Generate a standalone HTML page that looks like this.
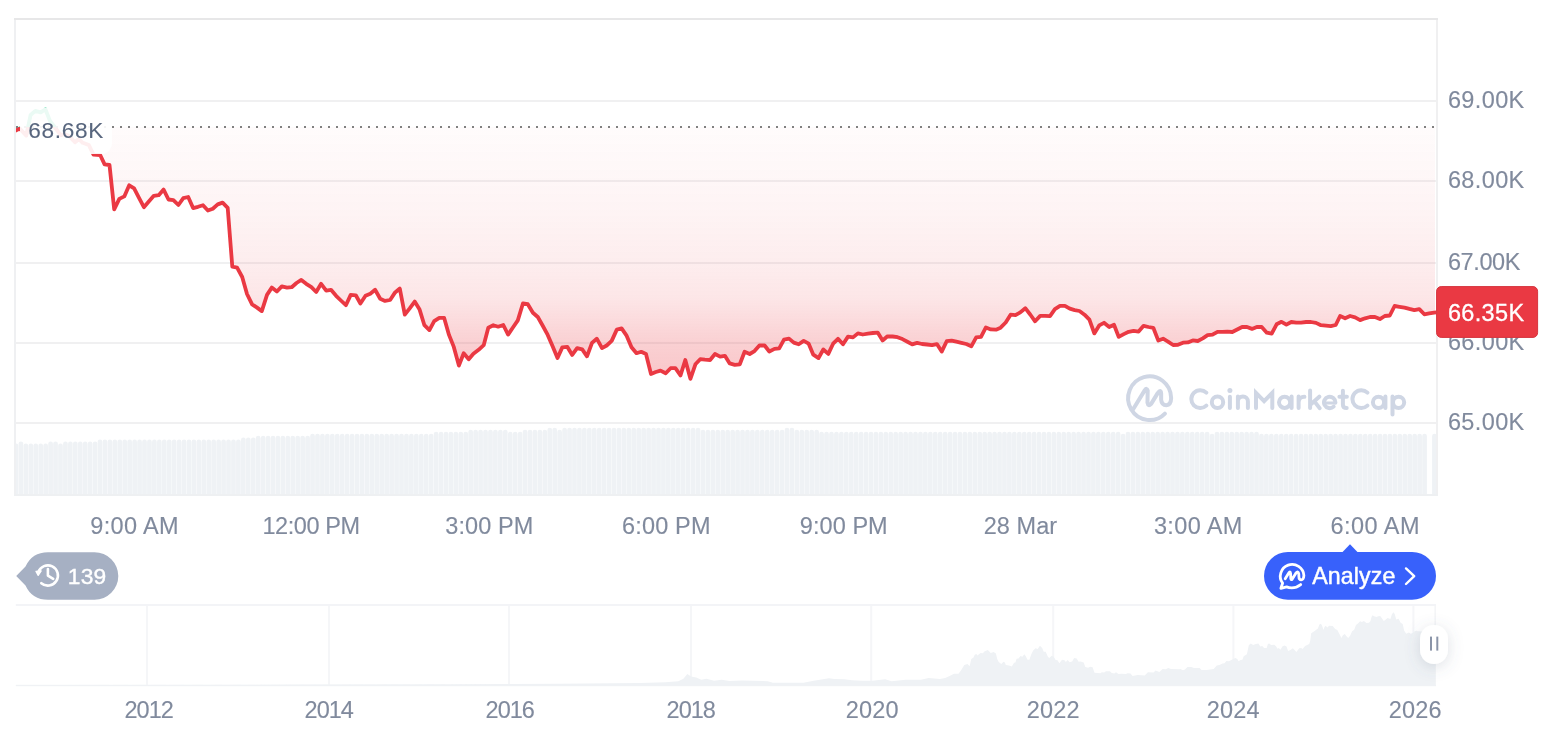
<!DOCTYPE html>
<html><head><meta charset="utf-8"><title>chart</title>
<style>
html,body{margin:0;padding:0;background:#fff;}
body{width:1566px;height:732px;overflow:hidden;position:relative;font-family:"Liberation Sans", sans-serif;}
svg{position:absolute;left:0;top:0;display:block;will-change:transform;}
text{font-family:"Liberation Sans", sans-serif;}
.ax{font-size:23.5px;fill:#808A9D;stroke:#808A9D;stroke-width:0.12px;}
</style></head><body>
<svg width="1566" height="732" viewBox="0 0 1566 732">
<defs>
<linearGradient id="gr" gradientUnits="userSpaceOnUse" x1="0" y1="127.0" x2="0" y2="387.0">
<stop offset="0.0000" stop-color="#EA3943" stop-opacity="0.0180"/><stop offset="0.2038" stop-color="#EA3943" stop-opacity="0.0420"/><stop offset="0.3269" stop-color="#EA3943" stop-opacity="0.0580"/><stop offset="0.5269" stop-color="#EA3943" stop-opacity="0.0920"/><stop offset="0.6577" stop-color="#EA3943" stop-opacity="0.1270"/><stop offset="0.7500" stop-color="#EA3943" stop-opacity="0.1850"/><stop offset="0.8269" stop-color="#EA3943" stop-opacity="0.2350"/><stop offset="1.0000" stop-color="#EA3943" stop-opacity="0.3000"/>
</linearGradient>
<linearGradient id="gg" gradientUnits="userSpaceOnUse" x1="0" y1="18.5" x2="0" y2="127.0">
<stop offset="0" stop-color="#16C784" stop-opacity="0.3"/>
<stop offset="1" stop-color="#16C784" stop-opacity="0.03"/>
</linearGradient>
<clipPath id="below"><rect x="0" y="127.0" width="1566" height="732"/></clipPath>
<clipPath id="above"><rect x="0" y="0" width="1566" height="127.0"/></clipPath>
<clipPath id="pane"><rect x="16" y="20" width="1420.3" height="474"/></clipPath>
<clipPath id="fillpane"><rect x="16" y="20" width="1419" height="474"/></clipPath>
<filter id="sh" x="-100%" y="-100%" width="300%" height="300%"><feDropShadow dx="0" dy="3" stdDeviation="7.5" flood-color="#58667E" flood-opacity="0.2"/></filter>
</defs>
<!-- frame -->
<rect x="14" y="18" width="1424" height="2" fill="#E7E7E8"/>
<rect x="14" y="20" width="2" height="476" fill="#EFF0F2"/>
<rect x="1436" y="20" width="2" height="476" fill="#F0F0F1"/>
<rect x="16" y="100.0" width="1420" height="2" fill="#F0F0F1"/><rect x="16" y="180.0" width="1420" height="2" fill="#F0F0F1"/><rect x="16" y="262.0" width="1420" height="2" fill="#F0F0F1"/><rect x="16" y="342.0" width="1420" height="2" fill="#F0F0F1"/><rect x="16" y="422.0" width="1420" height="2" fill="#F0F0F1"/>
<!-- volume -->
<g fill="#EFF2F5" clip-path="url(#pane)">
<path d="M13.67,495.0 V445.8 A2.33,2.33 0 0 1 18.33,445.8 V495.0 Z"/>
<path d="M18.61,495.0 V443.8 A2.33,2.33 0 0 1 23.27,443.8 V495.0 Z"/>
<path d="M23.55,495.0 V445.8 A2.33,2.33 0 0 1 28.21,445.8 V495.0 Z"/>
<path d="M28.50,495.0 V445.8 A2.33,2.33 0 0 1 33.16,445.8 V495.0 Z"/>
<path d="M33.44,495.0 V445.8 A2.33,2.33 0 0 1 38.10,445.8 V495.0 Z"/>
<path d="M38.38,495.0 V445.8 A2.33,2.33 0 0 1 43.04,445.8 V495.0 Z"/>
<path d="M43.32,495.0 V445.8 A2.33,2.33 0 0 1 47.98,445.8 V495.0 Z"/>
<path d="M48.27,495.0 V443.8 A2.33,2.33 0 0 1 52.93,443.8 V495.0 Z"/>
<path d="M53.21,495.0 V443.8 A2.33,2.33 0 0 1 57.87,443.8 V495.0 Z"/>
<path d="M58.15,495.0 V445.8 A2.33,2.33 0 0 1 62.81,445.8 V495.0 Z"/>
<path d="M63.09,495.0 V443.8 A2.33,2.33 0 0 1 67.75,443.8 V495.0 Z"/>
<path d="M68.04,495.0 V443.8 A2.33,2.33 0 0 1 72.70,443.8 V495.0 Z"/>
<path d="M72.98,495.0 V443.8 A2.33,2.33 0 0 1 77.64,443.8 V495.0 Z"/>
<path d="M77.92,495.0 V443.8 A2.33,2.33 0 0 1 82.58,443.8 V495.0 Z"/>
<path d="M82.86,495.0 V443.8 A2.33,2.33 0 0 1 87.52,443.8 V495.0 Z"/>
<path d="M87.80,495.0 V443.8 A2.33,2.33 0 0 1 92.46,443.8 V495.0 Z"/>
<path d="M92.75,495.0 V443.8 A2.33,2.33 0 0 1 97.41,443.8 V495.0 Z"/>
<path d="M97.69,495.0 V441.8 A2.33,2.33 0 0 1 102.35,441.8 V495.0 Z"/>
<path d="M102.63,495.0 V441.8 A2.33,2.33 0 0 1 107.29,441.8 V495.0 Z"/>
<path d="M107.57,495.0 V441.8 A2.33,2.33 0 0 1 112.23,441.8 V495.0 Z"/>
<path d="M112.52,495.0 V441.8 A2.33,2.33 0 0 1 117.18,441.8 V495.0 Z"/>
<path d="M117.46,495.0 V441.8 A2.33,2.33 0 0 1 122.12,441.8 V495.0 Z"/>
<path d="M122.40,495.0 V441.8 A2.33,2.33 0 0 1 127.06,441.8 V495.0 Z"/>
<path d="M127.34,495.0 V441.8 A2.33,2.33 0 0 1 132.00,441.8 V495.0 Z"/>
<path d="M132.29,495.0 V441.8 A2.33,2.33 0 0 1 136.95,441.8 V495.0 Z"/>
<path d="M137.23,495.0 V441.8 A2.33,2.33 0 0 1 141.89,441.8 V495.0 Z"/>
<path d="M142.17,495.0 V441.8 A2.33,2.33 0 0 1 146.83,441.8 V495.0 Z"/>
<path d="M147.11,495.0 V441.8 A2.33,2.33 0 0 1 151.77,441.8 V495.0 Z"/>
<path d="M152.05,495.0 V441.8 A2.33,2.33 0 0 1 156.71,441.8 V495.0 Z"/>
<path d="M157.00,495.0 V441.8 A2.33,2.33 0 0 1 161.66,441.8 V495.0 Z"/>
<path d="M161.94,495.0 V441.8 A2.33,2.33 0 0 1 166.60,441.8 V495.0 Z"/>
<path d="M166.88,495.0 V441.8 A2.33,2.33 0 0 1 171.54,441.8 V495.0 Z"/>
<path d="M171.82,495.0 V441.8 A2.33,2.33 0 0 1 176.48,441.8 V495.0 Z"/>
<path d="M176.77,495.0 V441.8 A2.33,2.33 0 0 1 181.43,441.8 V495.0 Z"/>
<path d="M181.71,495.0 V441.8 A2.33,2.33 0 0 1 186.37,441.8 V495.0 Z"/>
<path d="M186.65,495.0 V441.8 A2.33,2.33 0 0 1 191.31,441.8 V495.0 Z"/>
<path d="M191.59,495.0 V441.8 A2.33,2.33 0 0 1 196.25,441.8 V495.0 Z"/>
<path d="M196.54,495.0 V441.8 A2.33,2.33 0 0 1 201.20,441.8 V495.0 Z"/>
<path d="M201.48,495.0 V441.8 A2.33,2.33 0 0 1 206.14,441.8 V495.0 Z"/>
<path d="M206.42,495.0 V441.8 A2.33,2.33 0 0 1 211.08,441.8 V495.0 Z"/>
<path d="M211.36,495.0 V441.8 A2.33,2.33 0 0 1 216.02,441.8 V495.0 Z"/>
<path d="M216.30,495.0 V441.8 A2.33,2.33 0 0 1 220.96,441.8 V495.0 Z"/>
<path d="M221.25,495.0 V441.8 A2.33,2.33 0 0 1 225.91,441.8 V495.0 Z"/>
<path d="M226.19,495.0 V441.8 A2.33,2.33 0 0 1 230.85,441.8 V495.0 Z"/>
<path d="M231.13,495.0 V441.8 A2.33,2.33 0 0 1 235.79,441.8 V495.0 Z"/>
<path d="M236.07,495.0 V441.8 A2.33,2.33 0 0 1 240.73,441.8 V495.0 Z"/>
<path d="M241.02,495.0 V439.8 A2.33,2.33 0 0 1 245.68,439.8 V495.0 Z"/>
<path d="M245.96,495.0 V439.8 A2.33,2.33 0 0 1 250.62,439.8 V495.0 Z"/>
<path d="M250.90,495.0 V439.8 A2.33,2.33 0 0 1 255.56,439.8 V495.0 Z"/>
<path d="M255.84,495.0 V438.0 A2.33,2.33 0 0 1 260.50,438.0 V495.0 Z"/>
<path d="M260.79,495.0 V438.0 A2.33,2.33 0 0 1 265.44,438.0 V495.0 Z"/>
<path d="M265.73,495.0 V438.0 A2.33,2.33 0 0 1 270.39,438.0 V495.0 Z"/>
<path d="M270.67,495.0 V438.0 A2.33,2.33 0 0 1 275.33,438.0 V495.0 Z"/>
<path d="M275.61,495.0 V438.0 A2.33,2.33 0 0 1 280.27,438.0 V495.0 Z"/>
<path d="M280.55,495.0 V438.0 A2.33,2.33 0 0 1 285.21,438.0 V495.0 Z"/>
<path d="M285.50,495.0 V438.0 A2.33,2.33 0 0 1 290.16,438.0 V495.0 Z"/>
<path d="M290.44,495.0 V438.0 A2.33,2.33 0 0 1 295.10,438.0 V495.0 Z"/>
<path d="M295.38,495.0 V438.0 A2.33,2.33 0 0 1 300.04,438.0 V495.0 Z"/>
<path d="M300.32,495.0 V438.0 A2.33,2.33 0 0 1 304.98,438.0 V495.0 Z"/>
<path d="M305.27,495.0 V438.0 A2.33,2.33 0 0 1 309.93,438.0 V495.0 Z"/>
<path d="M310.21,495.0 V436.0 A2.33,2.33 0 0 1 314.87,436.0 V495.0 Z"/>
<path d="M315.15,495.0 V436.0 A2.33,2.33 0 0 1 319.81,436.0 V495.0 Z"/>
<path d="M320.09,495.0 V436.0 A2.33,2.33 0 0 1 324.75,436.0 V495.0 Z"/>
<path d="M325.03,495.0 V436.0 A2.33,2.33 0 0 1 329.69,436.0 V495.0 Z"/>
<path d="M329.98,495.0 V436.0 A2.33,2.33 0 0 1 334.64,436.0 V495.0 Z"/>
<path d="M334.92,495.0 V436.0 A2.33,2.33 0 0 1 339.58,436.0 V495.0 Z"/>
<path d="M339.86,495.0 V436.0 A2.33,2.33 0 0 1 344.52,436.0 V495.0 Z"/>
<path d="M344.80,495.0 V436.0 A2.33,2.33 0 0 1 349.46,436.0 V495.0 Z"/>
<path d="M349.75,495.0 V436.0 A2.33,2.33 0 0 1 354.41,436.0 V495.0 Z"/>
<path d="M354.69,495.0 V436.0 A2.33,2.33 0 0 1 359.35,436.0 V495.0 Z"/>
<path d="M359.63,495.0 V436.0 A2.33,2.33 0 0 1 364.29,436.0 V495.0 Z"/>
<path d="M364.57,495.0 V436.0 A2.33,2.33 0 0 1 369.23,436.0 V495.0 Z"/>
<path d="M369.52,495.0 V436.0 A2.33,2.33 0 0 1 374.18,436.0 V495.0 Z"/>
<path d="M374.46,495.0 V436.0 A2.33,2.33 0 0 1 379.12,436.0 V495.0 Z"/>
<path d="M379.40,495.0 V436.0 A2.33,2.33 0 0 1 384.06,436.0 V495.0 Z"/>
<path d="M384.34,495.0 V436.0 A2.33,2.33 0 0 1 389.00,436.0 V495.0 Z"/>
<path d="M389.28,495.0 V436.0 A2.33,2.33 0 0 1 393.94,436.0 V495.0 Z"/>
<path d="M394.23,495.0 V436.0 A2.33,2.33 0 0 1 398.89,436.0 V495.0 Z"/>
<path d="M399.17,495.0 V436.0 A2.33,2.33 0 0 1 403.83,436.0 V495.0 Z"/>
<path d="M404.11,495.0 V436.0 A2.33,2.33 0 0 1 408.77,436.0 V495.0 Z"/>
<path d="M409.05,495.0 V436.0 A2.33,2.33 0 0 1 413.71,436.0 V495.0 Z"/>
<path d="M414.00,495.0 V436.0 A2.33,2.33 0 0 1 418.66,436.0 V495.0 Z"/>
<path d="M418.94,495.0 V436.0 A2.33,2.33 0 0 1 423.60,436.0 V495.0 Z"/>
<path d="M423.88,495.0 V436.0 A2.33,2.33 0 0 1 428.54,436.0 V495.0 Z"/>
<path d="M428.82,495.0 V436.0 A2.33,2.33 0 0 1 433.48,436.0 V495.0 Z"/>
<path d="M433.77,495.0 V434.0 A2.33,2.33 0 0 1 438.43,434.0 V495.0 Z"/>
<path d="M438.71,495.0 V434.0 A2.33,2.33 0 0 1 443.37,434.0 V495.0 Z"/>
<path d="M443.65,495.0 V434.0 A2.33,2.33 0 0 1 448.31,434.0 V495.0 Z"/>
<path d="M448.59,495.0 V434.0 A2.33,2.33 0 0 1 453.25,434.0 V495.0 Z"/>
<path d="M453.53,495.0 V434.0 A2.33,2.33 0 0 1 458.19,434.0 V495.0 Z"/>
<path d="M458.48,495.0 V434.0 A2.33,2.33 0 0 1 463.14,434.0 V495.0 Z"/>
<path d="M463.42,495.0 V434.0 A2.33,2.33 0 0 1 468.08,434.0 V495.0 Z"/>
<path d="M468.36,495.0 V432.0 A2.33,2.33 0 0 1 473.02,432.0 V495.0 Z"/>
<path d="M473.30,495.0 V432.0 A2.33,2.33 0 0 1 477.96,432.0 V495.0 Z"/>
<path d="M478.25,495.0 V432.0 A2.33,2.33 0 0 1 482.91,432.0 V495.0 Z"/>
<path d="M483.19,495.0 V432.0 A2.33,2.33 0 0 1 487.85,432.0 V495.0 Z"/>
<path d="M488.13,495.0 V432.0 A2.33,2.33 0 0 1 492.79,432.0 V495.0 Z"/>
<path d="M493.07,495.0 V432.0 A2.33,2.33 0 0 1 497.73,432.0 V495.0 Z"/>
<path d="M498.02,495.0 V432.0 A2.33,2.33 0 0 1 502.68,432.0 V495.0 Z"/>
<path d="M502.96,495.0 V432.0 A2.33,2.33 0 0 1 507.62,432.0 V495.0 Z"/>
<path d="M507.90,495.0 V434.0 A2.33,2.33 0 0 1 512.56,434.0 V495.0 Z"/>
<path d="M512.84,495.0 V434.0 A2.33,2.33 0 0 1 517.50,434.0 V495.0 Z"/>
<path d="M517.78,495.0 V434.0 A2.33,2.33 0 0 1 522.44,434.0 V495.0 Z"/>
<path d="M522.73,495.0 V432.0 A2.33,2.33 0 0 1 527.39,432.0 V495.0 Z"/>
<path d="M527.67,495.0 V432.0 A2.33,2.33 0 0 1 532.33,432.0 V495.0 Z"/>
<path d="M532.61,495.0 V432.0 A2.33,2.33 0 0 1 537.27,432.0 V495.0 Z"/>
<path d="M537.55,495.0 V432.0 A2.33,2.33 0 0 1 542.21,432.0 V495.0 Z"/>
<path d="M542.50,495.0 V432.0 A2.33,2.33 0 0 1 547.16,432.0 V495.0 Z"/>
<path d="M547.44,495.0 V430.0 A2.33,2.33 0 0 1 552.10,430.0 V495.0 Z"/>
<path d="M552.38,495.0 V430.0 A2.33,2.33 0 0 1 557.04,430.0 V495.0 Z"/>
<path d="M557.32,495.0 V432.0 A2.33,2.33 0 0 1 561.98,432.0 V495.0 Z"/>
<path d="M562.27,495.0 V430.0 A2.33,2.33 0 0 1 566.93,430.0 V495.0 Z"/>
<path d="M567.21,495.0 V430.0 A2.33,2.33 0 0 1 571.87,430.0 V495.0 Z"/>
<path d="M572.15,495.0 V430.0 A2.33,2.33 0 0 1 576.81,430.0 V495.0 Z"/>
<path d="M577.09,495.0 V430.0 A2.33,2.33 0 0 1 581.75,430.0 V495.0 Z"/>
<path d="M582.03,495.0 V430.0 A2.33,2.33 0 0 1 586.69,430.0 V495.0 Z"/>
<path d="M586.98,495.0 V430.0 A2.33,2.33 0 0 1 591.64,430.0 V495.0 Z"/>
<path d="M591.92,495.0 V430.0 A2.33,2.33 0 0 1 596.58,430.0 V495.0 Z"/>
<path d="M596.86,495.0 V430.0 A2.33,2.33 0 0 1 601.52,430.0 V495.0 Z"/>
<path d="M601.80,495.0 V430.0 A2.33,2.33 0 0 1 606.46,430.0 V495.0 Z"/>
<path d="M606.75,495.0 V430.0 A2.33,2.33 0 0 1 611.41,430.0 V495.0 Z"/>
<path d="M611.69,495.0 V430.0 A2.33,2.33 0 0 1 616.35,430.0 V495.0 Z"/>
<path d="M616.63,495.0 V430.0 A2.33,2.33 0 0 1 621.29,430.0 V495.0 Z"/>
<path d="M621.57,495.0 V430.0 A2.33,2.33 0 0 1 626.23,430.0 V495.0 Z"/>
<path d="M626.52,495.0 V430.0 A2.33,2.33 0 0 1 631.18,430.0 V495.0 Z"/>
<path d="M631.46,495.0 V430.0 A2.33,2.33 0 0 1 636.12,430.0 V495.0 Z"/>
<path d="M636.40,495.0 V430.0 A2.33,2.33 0 0 1 641.06,430.0 V495.0 Z"/>
<path d="M641.34,495.0 V430.0 A2.33,2.33 0 0 1 646.00,430.0 V495.0 Z"/>
<path d="M646.28,495.0 V430.0 A2.33,2.33 0 0 1 650.94,430.0 V495.0 Z"/>
<path d="M651.23,495.0 V430.0 A2.33,2.33 0 0 1 655.89,430.0 V495.0 Z"/>
<path d="M656.17,495.0 V430.0 A2.33,2.33 0 0 1 660.83,430.0 V495.0 Z"/>
<path d="M661.11,495.0 V430.0 A2.33,2.33 0 0 1 665.77,430.0 V495.0 Z"/>
<path d="M666.05,495.0 V430.0 A2.33,2.33 0 0 1 670.71,430.0 V495.0 Z"/>
<path d="M671.00,495.0 V430.0 A2.33,2.33 0 0 1 675.66,430.0 V495.0 Z"/>
<path d="M675.94,495.0 V430.0 A2.33,2.33 0 0 1 680.60,430.0 V495.0 Z"/>
<path d="M680.88,495.0 V430.0 A2.33,2.33 0 0 1 685.54,430.0 V495.0 Z"/>
<path d="M685.82,495.0 V430.0 A2.33,2.33 0 0 1 690.48,430.0 V495.0 Z"/>
<path d="M690.77,495.0 V430.0 A2.33,2.33 0 0 1 695.43,430.0 V495.0 Z"/>
<path d="M695.71,495.0 V430.0 A2.33,2.33 0 0 1 700.37,430.0 V495.0 Z"/>
<path d="M700.65,495.0 V432.0 A2.33,2.33 0 0 1 705.31,432.0 V495.0 Z"/>
<path d="M705.59,495.0 V432.0 A2.33,2.33 0 0 1 710.25,432.0 V495.0 Z"/>
<path d="M710.53,495.0 V432.0 A2.33,2.33 0 0 1 715.19,432.0 V495.0 Z"/>
<path d="M715.48,495.0 V432.0 A2.33,2.33 0 0 1 720.14,432.0 V495.0 Z"/>
<path d="M720.42,495.0 V432.0 A2.33,2.33 0 0 1 725.08,432.0 V495.0 Z"/>
<path d="M725.36,495.0 V432.0 A2.33,2.33 0 0 1 730.02,432.0 V495.0 Z"/>
<path d="M730.30,495.0 V432.0 A2.33,2.33 0 0 1 734.96,432.0 V495.0 Z"/>
<path d="M735.25,495.0 V432.0 A2.33,2.33 0 0 1 739.91,432.0 V495.0 Z"/>
<path d="M740.19,495.0 V432.0 A2.33,2.33 0 0 1 744.85,432.0 V495.0 Z"/>
<path d="M745.13,495.0 V432.0 A2.33,2.33 0 0 1 749.79,432.0 V495.0 Z"/>
<path d="M750.07,495.0 V432.0 A2.33,2.33 0 0 1 754.73,432.0 V495.0 Z"/>
<path d="M755.01,495.0 V432.0 A2.33,2.33 0 0 1 759.68,432.0 V495.0 Z"/>
<path d="M759.96,495.0 V432.0 A2.33,2.33 0 0 1 764.62,432.0 V495.0 Z"/>
<path d="M764.90,495.0 V432.0 A2.33,2.33 0 0 1 769.56,432.0 V495.0 Z"/>
<path d="M769.84,495.0 V432.0 A2.33,2.33 0 0 1 774.50,432.0 V495.0 Z"/>
<path d="M774.78,495.0 V432.0 A2.33,2.33 0 0 1 779.44,432.0 V495.0 Z"/>
<path d="M779.73,495.0 V432.0 A2.33,2.33 0 0 1 784.39,432.0 V495.0 Z"/>
<path d="M784.67,495.0 V430.0 A2.33,2.33 0 0 1 789.33,430.0 V495.0 Z"/>
<path d="M789.61,495.0 V430.0 A2.33,2.33 0 0 1 794.27,430.0 V495.0 Z"/>
<path d="M794.55,495.0 V432.0 A2.33,2.33 0 0 1 799.21,432.0 V495.0 Z"/>
<path d="M799.50,495.0 V432.0 A2.33,2.33 0 0 1 804.16,432.0 V495.0 Z"/>
<path d="M804.44,495.0 V432.0 A2.33,2.33 0 0 1 809.10,432.0 V495.0 Z"/>
<path d="M809.38,495.0 V432.0 A2.33,2.33 0 0 1 814.04,432.0 V495.0 Z"/>
<path d="M814.32,495.0 V432.0 A2.33,2.33 0 0 1 818.98,432.0 V495.0 Z"/>
<path d="M819.26,495.0 V434.0 A2.33,2.33 0 0 1 823.92,434.0 V495.0 Z"/>
<path d="M824.21,495.0 V434.0 A2.33,2.33 0 0 1 828.87,434.0 V495.0 Z"/>
<path d="M829.15,495.0 V434.0 A2.33,2.33 0 0 1 833.81,434.0 V495.0 Z"/>
<path d="M834.09,495.0 V434.0 A2.33,2.33 0 0 1 838.75,434.0 V495.0 Z"/>
<path d="M839.03,495.0 V434.0 A2.33,2.33 0 0 1 843.69,434.0 V495.0 Z"/>
<path d="M843.98,495.0 V434.0 A2.33,2.33 0 0 1 848.64,434.0 V495.0 Z"/>
<path d="M848.92,495.0 V434.0 A2.33,2.33 0 0 1 853.58,434.0 V495.0 Z"/>
<path d="M853.86,495.0 V434.0 A2.33,2.33 0 0 1 858.52,434.0 V495.0 Z"/>
<path d="M858.80,495.0 V434.0 A2.33,2.33 0 0 1 863.46,434.0 V495.0 Z"/>
<path d="M863.75,495.0 V434.0 A2.33,2.33 0 0 1 868.41,434.0 V495.0 Z"/>
<path d="M868.69,495.0 V434.0 A2.33,2.33 0 0 1 873.35,434.0 V495.0 Z"/>
<path d="M873.63,495.0 V434.0 A2.33,2.33 0 0 1 878.29,434.0 V495.0 Z"/>
<path d="M878.57,495.0 V434.0 A2.33,2.33 0 0 1 883.23,434.0 V495.0 Z"/>
<path d="M883.51,495.0 V434.0 A2.33,2.33 0 0 1 888.17,434.0 V495.0 Z"/>
<path d="M888.46,495.0 V434.0 A2.33,2.33 0 0 1 893.12,434.0 V495.0 Z"/>
<path d="M893.40,495.0 V434.0 A2.33,2.33 0 0 1 898.06,434.0 V495.0 Z"/>
<path d="M898.34,495.0 V434.0 A2.33,2.33 0 0 1 903.00,434.0 V495.0 Z"/>
<path d="M903.28,495.0 V434.0 A2.33,2.33 0 0 1 907.94,434.0 V495.0 Z"/>
<path d="M908.23,495.0 V434.0 A2.33,2.33 0 0 1 912.89,434.0 V495.0 Z"/>
<path d="M913.17,495.0 V434.0 A2.33,2.33 0 0 1 917.83,434.0 V495.0 Z"/>
<path d="M918.11,495.0 V434.0 A2.33,2.33 0 0 1 922.77,434.0 V495.0 Z"/>
<path d="M923.05,495.0 V434.0 A2.33,2.33 0 0 1 927.71,434.0 V495.0 Z"/>
<path d="M928.00,495.0 V434.0 A2.33,2.33 0 0 1 932.66,434.0 V495.0 Z"/>
<path d="M932.94,495.0 V434.0 A2.33,2.33 0 0 1 937.60,434.0 V495.0 Z"/>
<path d="M937.88,495.0 V434.0 A2.33,2.33 0 0 1 942.54,434.0 V495.0 Z"/>
<path d="M942.82,495.0 V434.0 A2.33,2.33 0 0 1 947.48,434.0 V495.0 Z"/>
<path d="M947.76,495.0 V434.0 A2.33,2.33 0 0 1 952.42,434.0 V495.0 Z"/>
<path d="M952.71,495.0 V434.0 A2.33,2.33 0 0 1 957.37,434.0 V495.0 Z"/>
<path d="M957.65,495.0 V434.0 A2.33,2.33 0 0 1 962.31,434.0 V495.0 Z"/>
<path d="M962.59,495.0 V434.0 A2.33,2.33 0 0 1 967.25,434.0 V495.0 Z"/>
<path d="M967.53,495.0 V434.0 A2.33,2.33 0 0 1 972.19,434.0 V495.0 Z"/>
<path d="M972.48,495.0 V434.0 A2.33,2.33 0 0 1 977.14,434.0 V495.0 Z"/>
<path d="M977.42,495.0 V434.0 A2.33,2.33 0 0 1 982.08,434.0 V495.0 Z"/>
<path d="M982.36,495.0 V434.0 A2.33,2.33 0 0 1 987.02,434.0 V495.0 Z"/>
<path d="M987.30,495.0 V434.0 A2.33,2.33 0 0 1 991.96,434.0 V495.0 Z"/>
<path d="M992.25,495.0 V434.0 A2.33,2.33 0 0 1 996.91,434.0 V495.0 Z"/>
<path d="M997.19,495.0 V434.0 A2.33,2.33 0 0 1 1001.85,434.0 V495.0 Z"/>
<path d="M1002.13,495.0 V434.0 A2.33,2.33 0 0 1 1006.79,434.0 V495.0 Z"/>
<path d="M1007.07,495.0 V434.0 A2.33,2.33 0 0 1 1011.73,434.0 V495.0 Z"/>
<path d="M1012.01,495.0 V434.0 A2.33,2.33 0 0 1 1016.67,434.0 V495.0 Z"/>
<path d="M1016.96,495.0 V434.0 A2.33,2.33 0 0 1 1021.62,434.0 V495.0 Z"/>
<path d="M1021.90,495.0 V434.0 A2.33,2.33 0 0 1 1026.56,434.0 V495.0 Z"/>
<path d="M1026.84,495.0 V434.0 A2.33,2.33 0 0 1 1031.50,434.0 V495.0 Z"/>
<path d="M1031.78,495.0 V434.0 A2.33,2.33 0 0 1 1036.44,434.0 V495.0 Z"/>
<path d="M1036.73,495.0 V434.0 A2.33,2.33 0 0 1 1041.39,434.0 V495.0 Z"/>
<path d="M1041.67,495.0 V434.0 A2.33,2.33 0 0 1 1046.33,434.0 V495.0 Z"/>
<path d="M1046.61,495.0 V434.0 A2.33,2.33 0 0 1 1051.27,434.0 V495.0 Z"/>
<path d="M1051.55,495.0 V434.0 A2.33,2.33 0 0 1 1056.21,434.0 V495.0 Z"/>
<path d="M1056.50,495.0 V434.0 A2.33,2.33 0 0 1 1061.16,434.0 V495.0 Z"/>
<path d="M1061.44,495.0 V434.0 A2.33,2.33 0 0 1 1066.10,434.0 V495.0 Z"/>
<path d="M1066.38,495.0 V434.0 A2.33,2.33 0 0 1 1071.04,434.0 V495.0 Z"/>
<path d="M1071.32,495.0 V434.0 A2.33,2.33 0 0 1 1075.98,434.0 V495.0 Z"/>
<path d="M1076.26,495.0 V434.0 A2.33,2.33 0 0 1 1080.92,434.0 V495.0 Z"/>
<path d="M1081.21,495.0 V434.0 A2.33,2.33 0 0 1 1085.87,434.0 V495.0 Z"/>
<path d="M1086.15,495.0 V434.0 A2.33,2.33 0 0 1 1090.81,434.0 V495.0 Z"/>
<path d="M1091.09,495.0 V434.0 A2.33,2.33 0 0 1 1095.75,434.0 V495.0 Z"/>
<path d="M1096.03,495.0 V434.0 A2.33,2.33 0 0 1 1100.69,434.0 V495.0 Z"/>
<path d="M1100.98,495.0 V434.0 A2.33,2.33 0 0 1 1105.64,434.0 V495.0 Z"/>
<path d="M1105.92,495.0 V434.0 A2.33,2.33 0 0 1 1110.58,434.0 V495.0 Z"/>
<path d="M1110.86,495.0 V434.0 A2.33,2.33 0 0 1 1115.52,434.0 V495.0 Z"/>
<path d="M1115.80,495.0 V434.0 A2.33,2.33 0 0 1 1120.46,434.0 V495.0 Z"/>
<path d="M1120.75,495.0 V436.0 A2.33,2.33 0 0 1 1125.41,436.0 V495.0 Z"/>
<path d="M1125.69,495.0 V434.0 A2.33,2.33 0 0 1 1130.35,434.0 V495.0 Z"/>
<path d="M1130.63,495.0 V434.0 A2.33,2.33 0 0 1 1135.29,434.0 V495.0 Z"/>
<path d="M1135.57,495.0 V434.0 A2.33,2.33 0 0 1 1140.23,434.0 V495.0 Z"/>
<path d="M1140.51,495.0 V434.0 A2.33,2.33 0 0 1 1145.17,434.0 V495.0 Z"/>
<path d="M1145.46,495.0 V434.0 A2.33,2.33 0 0 1 1150.12,434.0 V495.0 Z"/>
<path d="M1150.40,495.0 V434.0 A2.33,2.33 0 0 1 1155.06,434.0 V495.0 Z"/>
<path d="M1155.34,495.0 V434.0 A2.33,2.33 0 0 1 1160.00,434.0 V495.0 Z"/>
<path d="M1160.28,495.0 V434.0 A2.33,2.33 0 0 1 1164.94,434.0 V495.0 Z"/>
<path d="M1165.23,495.0 V434.0 A2.33,2.33 0 0 1 1169.89,434.0 V495.0 Z"/>
<path d="M1170.17,495.0 V434.0 A2.33,2.33 0 0 1 1174.83,434.0 V495.0 Z"/>
<path d="M1175.11,495.0 V434.0 A2.33,2.33 0 0 1 1179.77,434.0 V495.0 Z"/>
<path d="M1180.05,495.0 V434.0 A2.33,2.33 0 0 1 1184.71,434.0 V495.0 Z"/>
<path d="M1185.00,495.0 V434.0 A2.33,2.33 0 0 1 1189.66,434.0 V495.0 Z"/>
<path d="M1189.94,495.0 V434.0 A2.33,2.33 0 0 1 1194.60,434.0 V495.0 Z"/>
<path d="M1194.88,495.0 V434.0 A2.33,2.33 0 0 1 1199.54,434.0 V495.0 Z"/>
<path d="M1199.82,495.0 V434.0 A2.33,2.33 0 0 1 1204.48,434.0 V495.0 Z"/>
<path d="M1204.76,495.0 V434.0 A2.33,2.33 0 0 1 1209.42,434.0 V495.0 Z"/>
<path d="M1209.71,495.0 V436.0 A2.33,2.33 0 0 1 1214.37,436.0 V495.0 Z"/>
<path d="M1214.65,495.0 V434.0 A2.33,2.33 0 0 1 1219.31,434.0 V495.0 Z"/>
<path d="M1219.59,495.0 V434.0 A2.33,2.33 0 0 1 1224.25,434.0 V495.0 Z"/>
<path d="M1224.53,495.0 V434.0 A2.33,2.33 0 0 1 1229.19,434.0 V495.0 Z"/>
<path d="M1229.48,495.0 V434.0 A2.33,2.33 0 0 1 1234.14,434.0 V495.0 Z"/>
<path d="M1234.42,495.0 V434.0 A2.33,2.33 0 0 1 1239.08,434.0 V495.0 Z"/>
<path d="M1239.36,495.0 V434.0 A2.33,2.33 0 0 1 1244.02,434.0 V495.0 Z"/>
<path d="M1244.30,495.0 V434.0 A2.33,2.33 0 0 1 1248.96,434.0 V495.0 Z"/>
<path d="M1249.25,495.0 V434.0 A2.33,2.33 0 0 1 1253.90,434.0 V495.0 Z"/>
<path d="M1254.19,495.0 V434.0 A2.33,2.33 0 0 1 1258.85,434.0 V495.0 Z"/>
<path d="M1259.13,495.0 V436.0 A2.33,2.33 0 0 1 1263.79,436.0 V495.0 Z"/>
<path d="M1264.07,495.0 V436.0 A2.33,2.33 0 0 1 1268.73,436.0 V495.0 Z"/>
<path d="M1269.01,495.0 V436.0 A2.33,2.33 0 0 1 1273.67,436.0 V495.0 Z"/>
<path d="M1273.96,495.0 V436.0 A2.33,2.33 0 0 1 1278.62,436.0 V495.0 Z"/>
<path d="M1278.90,495.0 V436.0 A2.33,2.33 0 0 1 1283.56,436.0 V495.0 Z"/>
<path d="M1283.84,495.0 V436.0 A2.33,2.33 0 0 1 1288.50,436.0 V495.0 Z"/>
<path d="M1288.78,495.0 V436.0 A2.33,2.33 0 0 1 1293.44,436.0 V495.0 Z"/>
<path d="M1293.73,495.0 V436.0 A2.33,2.33 0 0 1 1298.39,436.0 V495.0 Z"/>
<path d="M1298.67,495.0 V436.0 A2.33,2.33 0 0 1 1303.33,436.0 V495.0 Z"/>
<path d="M1303.61,495.0 V436.0 A2.33,2.33 0 0 1 1308.27,436.0 V495.0 Z"/>
<path d="M1308.55,495.0 V436.0 A2.33,2.33 0 0 1 1313.21,436.0 V495.0 Z"/>
<path d="M1313.49,495.0 V436.0 A2.33,2.33 0 0 1 1318.15,436.0 V495.0 Z"/>
<path d="M1318.44,495.0 V436.0 A2.33,2.33 0 0 1 1323.10,436.0 V495.0 Z"/>
<path d="M1323.38,495.0 V436.0 A2.33,2.33 0 0 1 1328.04,436.0 V495.0 Z"/>
<path d="M1328.32,495.0 V436.0 A2.33,2.33 0 0 1 1332.98,436.0 V495.0 Z"/>
<path d="M1333.26,495.0 V436.0 A2.33,2.33 0 0 1 1337.92,436.0 V495.0 Z"/>
<path d="M1338.21,495.0 V436.0 A2.33,2.33 0 0 1 1342.87,436.0 V495.0 Z"/>
<path d="M1343.15,495.0 V436.0 A2.33,2.33 0 0 1 1347.81,436.0 V495.0 Z"/>
<path d="M1348.09,495.0 V436.0 A2.33,2.33 0 0 1 1352.75,436.0 V495.0 Z"/>
<path d="M1353.03,495.0 V436.0 A2.33,2.33 0 0 1 1357.69,436.0 V495.0 Z"/>
<path d="M1357.98,495.0 V436.0 A2.33,2.33 0 0 1 1362.64,436.0 V495.0 Z"/>
<path d="M1362.92,495.0 V436.0 A2.33,2.33 0 0 1 1367.58,436.0 V495.0 Z"/>
<path d="M1367.86,495.0 V436.0 A2.33,2.33 0 0 1 1372.52,436.0 V495.0 Z"/>
<path d="M1372.80,495.0 V436.0 A2.33,2.33 0 0 1 1377.46,436.0 V495.0 Z"/>
<path d="M1377.74,495.0 V436.0 A2.33,2.33 0 0 1 1382.40,436.0 V495.0 Z"/>
<path d="M1382.69,495.0 V436.0 A2.33,2.33 0 0 1 1387.35,436.0 V495.0 Z"/>
<path d="M1387.63,495.0 V436.0 A2.33,2.33 0 0 1 1392.29,436.0 V495.0 Z"/>
<path d="M1392.57,495.0 V436.0 A2.33,2.33 0 0 1 1397.23,436.0 V495.0 Z"/>
<path d="M1397.51,495.0 V436.0 A2.33,2.33 0 0 1 1402.17,436.0 V495.0 Z"/>
<path d="M1402.46,495.0 V436.0 A2.33,2.33 0 0 1 1407.12,436.0 V495.0 Z"/>
<path d="M1407.40,495.0 V436.0 A2.33,2.33 0 0 1 1412.06,436.0 V495.0 Z"/>
<path d="M1412.34,495.0 V436.0 A2.33,2.33 0 0 1 1417.00,436.0 V495.0 Z"/>
<path d="M1417.28,495.0 V436.0 A2.33,2.33 0 0 1 1421.94,436.0 V495.0 Z"/>
<path d="M1422.23,495.0 V436.0 A2.33,2.33 0 0 1 1426.89,436.0 V495.0 Z"/>
<path d="M1432.11,495.0 V436.0 A2.33,2.33 0 0 1 1436.77,436.0 V495.0 Z"/>
</g>
<rect x="14" y="494" width="1424" height="2" fill="#EEF0F2"/>
<!-- watermark -->
<g id="wm" fill="none" stroke="#CFD6E4" stroke-width="4" stroke-linecap="round" stroke-linejoin="round">
<path transform="translate(1110,360) scale(0.11494)" stroke-width="34.8" d="M200,430 L303,262 Q320,238 328,266 L326,372 Q332,408 358,382 L415,288 Q442,250 445,292 L445,345 Q449,393 490,393 Q531,390 532,330 A187,190 0 1 0 478,466"/>
</g>
<g fill="none" stroke="#CFD6E4" stroke-width="4" stroke-linecap="round" stroke-linejoin="round">
<path d="M1206.3,392.6 A8.9,8.9 0 1 0 1206.3,405.6 M1211.8,402.3 a5.7,5.7 0 1 0 11.4,0 a5.7,5.7 0 1 0 -11.4,0 M1229.9,396.8 V408.1 M1237.9,396.5 V408.1 M1237.9,401.5 A5,5 0 0 1 1247.9,401.5 V408.1 M1279.0,402.3 a5.6,5.6 0 1 0 11.2,0 a5.6,5.6 0 1 0 -11.2,0 M1291.6,396.5 V408.1 M1298.6,396.5 V408.1 M1298.6,402 A5.6,5.6 0 0 1 1304.4,396.8 M1310.1,390.6 V408.1 M1319.3,396.7 L1310.6,404.4 M1314.6,401.6 L1319.6,408.1 M1335.4,402.6 A5.7,5.7 0 1 0 1333.6,406.6 M1342.9,390.8 V404.6 Q1342.9,408.1 1346.7,408.1 M1339.4,396.7 H1346.9 M1367.4,392.6 A8.9,8.9 0 1 0 1367.4,405.6 M1372.9,402.3 a5.6,5.6 0 1 0 11.2,0 a5.6,5.6 0 1 0 -11.2,0 M1385.4,396.5 V408.1 M1392.5,396.5 V414.6 M1393.0,402.3 a5.6,5.6 0 1 0 11.2,0 a5.6,5.6 0 1 0 -11.2,0"/>
<path d="M1256,408.1 V392.9 L1264.1,401.1 L1272.3,392.9 V408.1" stroke-linejoin="miter" stroke-miterlimit="10"/>
</g>
<circle cx="1229.9" cy="390.5" r="2.5" fill="#CFD6E4"/>
<path d="M1325,403 H1335" stroke="#CFD6E4" stroke-width="3.2" stroke-linecap="round" fill="none"/>
<!-- area + line -->
<g clip-path="url(#pane)">
<g clip-path="url(#fillpane)"><path d="M14.8,131.0 L19.7,128.5 L26.3,135.6 L30.6,115.0 L35.3,110.9 L40.6,112.4 L45.4,109.3 L50.0,121.0 L55.0,127.5 L60.7,135.2 L64.2,134.0 L69.0,136.0 L75.0,142.3 L78.8,139.0 L82.7,142.8 L88.8,145.0 L93.5,154.6 L100.3,155.2 L104.6,164.4 L109.5,165.0 L114.2,209.3 L119.3,198.9 L124.3,196.4 L129.2,185.3 L134.1,188.4 L139.0,197.8 L143.9,207.2 L148.8,201.5 L153.8,195.8 L158.7,195.2 L163.6,189.6 L168.5,199.5 L173.4,200.1 L178.4,205.0 L183.3,198.2 L188.2,197.0 L193.1,208.1 L198.0,206.8 L203.0,205.2 L207.9,210.5 L212.8,208.7 L217.7,204.4 L222.6,202.6 L227.7,207.8 L232.3,266.7 L237.1,267.6 L242.2,277.0 L247.0,294.0 L252.1,304.3 L256.7,307.4 L261.8,311.1 L267.0,294.9 L271.8,287.6 L276.9,291.5 L281.8,286.4 L287.0,287.7 L291.7,287.2 L296.5,283.0 L301.3,279.9 L306.2,283.8 L311.4,287.2 L316.2,292.0 L321.1,283.8 L326.2,290.6 L331.0,289.8 L336.1,295.8 L340.9,300.5 L345.9,305.2 L350.7,294.9 L355.8,295.3 L360.4,303.5 L365.5,295.8 L370.3,293.7 L375.1,289.8 L380.2,298.8 L385.0,300.9 L390.1,300.0 L395.1,292.4 L399.8,288.6 L404.8,314.7 L409.7,308.4 L414.7,301.6 L419.6,309.6 L424.4,325.2 L429.4,330.1 L434.2,321.2 L439.3,317.8 L444.1,317.8 L449.0,334.9 L453.8,346.9 L458.9,365.6 L463.7,353.3 L468.7,359.2 L473.4,353.7 L478.6,349.8 L483.7,345.2 L488.3,327.7 L493.3,325.2 L498.2,326.7 L503.3,325.0 L508.1,334.6 L513.1,327.2 L517.8,320.4 L523.0,303.3 L527.8,304.2 L532.9,312.7 L537.8,317.0 L542.6,325.5 L547.7,334.9 L552.5,346.0 L557.5,358.0 L562.3,347.4 L567.4,346.9 L572.2,354.9 L577.1,348.1 L582.2,349.4 L587.0,356.3 L592.0,342.9 L596.8,338.7 L602.0,348.1 L606.7,345.5 L611.7,340.9 L616.8,329.6 L621.6,328.4 L626.4,335.3 L631.5,347.2 L636.5,353.2 L641.2,351.8 L646.0,354.0 L651.0,374.0 L655.8,372.0 L660.5,370.6 L665.7,373.3 L670.6,368.2 L675.4,368.2 L680.5,375.4 L685.3,360.0 L690.4,378.8 L695.4,364.3 L700.2,359.2 L704.9,359.7 L710.1,360.0 L715.0,354.0 L720.1,356.6 L724.9,355.8 L729.7,363.4 L734.8,364.8 L739.8,364.3 L744.6,351.8 L749.7,354.0 L754.5,351.1 L759.4,345.5 L764.6,345.5 L769.3,351.5 L774.5,348.9 L779.2,348.4 L784.0,339.7 L789.0,338.6 L793.8,342.6 L798.7,344.3 L803.7,340.9 L808.7,343.7 L813.3,354.7 L818.5,358.1 L823.3,349.5 L828.3,353.9 L833.1,343.7 L838.0,338.8 L843.0,344.3 L848.0,336.6 L853.0,337.4 L857.9,333.4 L862.8,334.5 L867.9,333.6 L872.9,333.0 L877.7,332.6 L882.6,340.5 L887.5,336.3 L892.6,336.5 L897.5,337.2 L902.4,339.1 L907.4,341.7 L912.2,344.3 L917.1,342.9 L922.0,344.0 L927.1,344.5 L932.0,345.2 L936.9,344.1 L941.7,351.6 L946.7,341.2 L951.6,340.6 L956.4,341.7 L961.4,342.9 L966.3,344.0 L971.3,346.3 L976.2,337.4 L981.0,336.9 L985.9,327.4 L990.8,329.4 L996.0,329.7 L1000.6,327.7 L1005.7,322.5 L1010.6,314.7 L1015.5,315.1 L1020.3,312.4 L1025.3,308.2 L1030.2,314.5 L1035.1,321.3 L1040.2,315.9 L1045.1,315.9 L1050.0,316.2 L1054.9,309.2 L1060.0,305.9 L1064.9,305.9 L1069.8,308.7 L1074.7,310.1 L1079.5,311.0 L1084.5,314.7 L1089.4,319.7 L1094.3,333.4 L1099.2,325.4 L1104.0,322.8 L1109.2,327.0 L1114.0,324.8 L1118.7,336.9 L1123.8,334.1 L1128.7,331.8 L1133.6,330.9 L1138.6,331.6 L1143.6,325.8 L1148.5,327.0 L1153.3,327.8 L1158.3,340.6 L1163.1,338.7 L1168.0,341.6 L1173.1,345.0 L1178.0,344.8 L1183.0,342.7 L1187.8,342.4 L1192.8,340.4 L1197.8,341.0 L1202.8,338.4 L1207.6,335.2 L1212.5,334.7 L1217.5,331.8 L1222.3,331.8 L1227.2,331.6 L1232.3,332.0 L1237.2,329.5 L1242.1,327.0 L1247.0,327.0 L1252.0,328.9 L1256.8,327.0 L1261.7,327.0 L1266.8,332.7 L1271.7,333.7 L1276.6,324.3 L1281.5,321.8 L1286.4,324.7 L1291.3,322.0 L1296.2,322.6 L1301.1,322.6 L1306.1,322.0 L1311.0,322.0 L1316.0,322.9 L1320.9,325.2 L1325.9,325.6 L1330.8,326.1 L1335.7,325.0 L1340.1,316.0 L1345.1,318.3 L1350.1,316.0 L1355.1,317.4 L1360.1,320.1 L1365.1,318.3 L1370.0,317.0 L1374.9,317.0 L1379.9,319.1 L1384.8,316.0 L1389.8,315.5 L1394.6,306.0 L1399.5,306.8 L1404.5,307.6 L1409.4,308.9 L1414.4,310.1 L1419.3,309.1 L1424.3,314.3 L1429.2,313.4 L1434.1,312.6 L1436.5,312.4 L1436.5,127.0 L14.8,127.0 Z" fill="url(#gr)" clip-path="url(#below)"/></g>
<path d="M14.8,131.0 L19.7,128.5 L26.3,135.6 L30.6,115.0 L35.3,110.9 L40.6,112.4 L45.4,109.3 L50.0,121.0 L55.0,127.5 L60.7,135.2 L64.2,134.0 L69.0,136.0 L75.0,142.3 L78.8,139.0 L82.7,142.8 L88.8,145.0 L93.5,154.6 L100.3,155.2 L104.6,164.4 L109.5,165.0 L114.2,209.3 L119.3,198.9 L124.3,196.4 L129.2,185.3 L134.1,188.4 L139.0,197.8 L143.9,207.2 L148.8,201.5 L153.8,195.8 L158.7,195.2 L163.6,189.6 L168.5,199.5 L173.4,200.1 L178.4,205.0 L183.3,198.2 L188.2,197.0 L193.1,208.1 L198.0,206.8 L203.0,205.2 L207.9,210.5 L212.8,208.7 L217.7,204.4 L222.6,202.6 L227.7,207.8 L232.3,266.7 L237.1,267.6 L242.2,277.0 L247.0,294.0 L252.1,304.3 L256.7,307.4 L261.8,311.1 L267.0,294.9 L271.8,287.6 L276.9,291.5 L281.8,286.4 L287.0,287.7 L291.7,287.2 L296.5,283.0 L301.3,279.9 L306.2,283.8 L311.4,287.2 L316.2,292.0 L321.1,283.8 L326.2,290.6 L331.0,289.8 L336.1,295.8 L340.9,300.5 L345.9,305.2 L350.7,294.9 L355.8,295.3 L360.4,303.5 L365.5,295.8 L370.3,293.7 L375.1,289.8 L380.2,298.8 L385.0,300.9 L390.1,300.0 L395.1,292.4 L399.8,288.6 L404.8,314.7 L409.7,308.4 L414.7,301.6 L419.6,309.6 L424.4,325.2 L429.4,330.1 L434.2,321.2 L439.3,317.8 L444.1,317.8 L449.0,334.9 L453.8,346.9 L458.9,365.6 L463.7,353.3 L468.7,359.2 L473.4,353.7 L478.6,349.8 L483.7,345.2 L488.3,327.7 L493.3,325.2 L498.2,326.7 L503.3,325.0 L508.1,334.6 L513.1,327.2 L517.8,320.4 L523.0,303.3 L527.8,304.2 L532.9,312.7 L537.8,317.0 L542.6,325.5 L547.7,334.9 L552.5,346.0 L557.5,358.0 L562.3,347.4 L567.4,346.9 L572.2,354.9 L577.1,348.1 L582.2,349.4 L587.0,356.3 L592.0,342.9 L596.8,338.7 L602.0,348.1 L606.7,345.5 L611.7,340.9 L616.8,329.6 L621.6,328.4 L626.4,335.3 L631.5,347.2 L636.5,353.2 L641.2,351.8 L646.0,354.0 L651.0,374.0 L655.8,372.0 L660.5,370.6 L665.7,373.3 L670.6,368.2 L675.4,368.2 L680.5,375.4 L685.3,360.0 L690.4,378.8 L695.4,364.3 L700.2,359.2 L704.9,359.7 L710.1,360.0 L715.0,354.0 L720.1,356.6 L724.9,355.8 L729.7,363.4 L734.8,364.8 L739.8,364.3 L744.6,351.8 L749.7,354.0 L754.5,351.1 L759.4,345.5 L764.6,345.5 L769.3,351.5 L774.5,348.9 L779.2,348.4 L784.0,339.7 L789.0,338.6 L793.8,342.6 L798.7,344.3 L803.7,340.9 L808.7,343.7 L813.3,354.7 L818.5,358.1 L823.3,349.5 L828.3,353.9 L833.1,343.7 L838.0,338.8 L843.0,344.3 L848.0,336.6 L853.0,337.4 L857.9,333.4 L862.8,334.5 L867.9,333.6 L872.9,333.0 L877.7,332.6 L882.6,340.5 L887.5,336.3 L892.6,336.5 L897.5,337.2 L902.4,339.1 L907.4,341.7 L912.2,344.3 L917.1,342.9 L922.0,344.0 L927.1,344.5 L932.0,345.2 L936.9,344.1 L941.7,351.6 L946.7,341.2 L951.6,340.6 L956.4,341.7 L961.4,342.9 L966.3,344.0 L971.3,346.3 L976.2,337.4 L981.0,336.9 L985.9,327.4 L990.8,329.4 L996.0,329.7 L1000.6,327.7 L1005.7,322.5 L1010.6,314.7 L1015.5,315.1 L1020.3,312.4 L1025.3,308.2 L1030.2,314.5 L1035.1,321.3 L1040.2,315.9 L1045.1,315.9 L1050.0,316.2 L1054.9,309.2 L1060.0,305.9 L1064.9,305.9 L1069.8,308.7 L1074.7,310.1 L1079.5,311.0 L1084.5,314.7 L1089.4,319.7 L1094.3,333.4 L1099.2,325.4 L1104.0,322.8 L1109.2,327.0 L1114.0,324.8 L1118.7,336.9 L1123.8,334.1 L1128.7,331.8 L1133.6,330.9 L1138.6,331.6 L1143.6,325.8 L1148.5,327.0 L1153.3,327.8 L1158.3,340.6 L1163.1,338.7 L1168.0,341.6 L1173.1,345.0 L1178.0,344.8 L1183.0,342.7 L1187.8,342.4 L1192.8,340.4 L1197.8,341.0 L1202.8,338.4 L1207.6,335.2 L1212.5,334.7 L1217.5,331.8 L1222.3,331.8 L1227.2,331.6 L1232.3,332.0 L1237.2,329.5 L1242.1,327.0 L1247.0,327.0 L1252.0,328.9 L1256.8,327.0 L1261.7,327.0 L1266.8,332.7 L1271.7,333.7 L1276.6,324.3 L1281.5,321.8 L1286.4,324.7 L1291.3,322.0 L1296.2,322.6 L1301.1,322.6 L1306.1,322.0 L1311.0,322.0 L1316.0,322.9 L1320.9,325.2 L1325.9,325.6 L1330.8,326.1 L1335.7,325.0 L1340.1,316.0 L1345.1,318.3 L1350.1,316.0 L1355.1,317.4 L1360.1,320.1 L1365.1,318.3 L1370.0,317.0 L1374.9,317.0 L1379.9,319.1 L1384.8,316.0 L1389.8,315.5 L1394.6,306.0 L1399.5,306.8 L1404.5,307.6 L1409.4,308.9 L1414.4,310.1 L1419.3,309.1 L1424.3,314.3 L1429.2,313.4 L1434.1,312.6 L1436.5,312.4 L1436.5,127.0 L14.8,127.0 Z" fill="url(#gg)" clip-path="url(#above)"/>
<path d="M14.8,131.0 L19.7,128.5 L26.3,135.6 L30.6,115.0 L35.3,110.9 L40.6,112.4 L45.4,109.3 L50.0,121.0 L55.0,127.5 L60.7,135.2 L64.2,134.0 L69.0,136.0 L75.0,142.3 L78.8,139.0 L82.7,142.8 L88.8,145.0 L93.5,154.6 L100.3,155.2 L104.6,164.4 L109.5,165.0 L114.2,209.3 L119.3,198.9 L124.3,196.4 L129.2,185.3 L134.1,188.4 L139.0,197.8 L143.9,207.2 L148.8,201.5 L153.8,195.8 L158.7,195.2 L163.6,189.6 L168.5,199.5 L173.4,200.1 L178.4,205.0 L183.3,198.2 L188.2,197.0 L193.1,208.1 L198.0,206.8 L203.0,205.2 L207.9,210.5 L212.8,208.7 L217.7,204.4 L222.6,202.6 L227.7,207.8 L232.3,266.7 L237.1,267.6 L242.2,277.0 L247.0,294.0 L252.1,304.3 L256.7,307.4 L261.8,311.1 L267.0,294.9 L271.8,287.6 L276.9,291.5 L281.8,286.4 L287.0,287.7 L291.7,287.2 L296.5,283.0 L301.3,279.9 L306.2,283.8 L311.4,287.2 L316.2,292.0 L321.1,283.8 L326.2,290.6 L331.0,289.8 L336.1,295.8 L340.9,300.5 L345.9,305.2 L350.7,294.9 L355.8,295.3 L360.4,303.5 L365.5,295.8 L370.3,293.7 L375.1,289.8 L380.2,298.8 L385.0,300.9 L390.1,300.0 L395.1,292.4 L399.8,288.6 L404.8,314.7 L409.7,308.4 L414.7,301.6 L419.6,309.6 L424.4,325.2 L429.4,330.1 L434.2,321.2 L439.3,317.8 L444.1,317.8 L449.0,334.9 L453.8,346.9 L458.9,365.6 L463.7,353.3 L468.7,359.2 L473.4,353.7 L478.6,349.8 L483.7,345.2 L488.3,327.7 L493.3,325.2 L498.2,326.7 L503.3,325.0 L508.1,334.6 L513.1,327.2 L517.8,320.4 L523.0,303.3 L527.8,304.2 L532.9,312.7 L537.8,317.0 L542.6,325.5 L547.7,334.9 L552.5,346.0 L557.5,358.0 L562.3,347.4 L567.4,346.9 L572.2,354.9 L577.1,348.1 L582.2,349.4 L587.0,356.3 L592.0,342.9 L596.8,338.7 L602.0,348.1 L606.7,345.5 L611.7,340.9 L616.8,329.6 L621.6,328.4 L626.4,335.3 L631.5,347.2 L636.5,353.2 L641.2,351.8 L646.0,354.0 L651.0,374.0 L655.8,372.0 L660.5,370.6 L665.7,373.3 L670.6,368.2 L675.4,368.2 L680.5,375.4 L685.3,360.0 L690.4,378.8 L695.4,364.3 L700.2,359.2 L704.9,359.7 L710.1,360.0 L715.0,354.0 L720.1,356.6 L724.9,355.8 L729.7,363.4 L734.8,364.8 L739.8,364.3 L744.6,351.8 L749.7,354.0 L754.5,351.1 L759.4,345.5 L764.6,345.5 L769.3,351.5 L774.5,348.9 L779.2,348.4 L784.0,339.7 L789.0,338.6 L793.8,342.6 L798.7,344.3 L803.7,340.9 L808.7,343.7 L813.3,354.7 L818.5,358.1 L823.3,349.5 L828.3,353.9 L833.1,343.7 L838.0,338.8 L843.0,344.3 L848.0,336.6 L853.0,337.4 L857.9,333.4 L862.8,334.5 L867.9,333.6 L872.9,333.0 L877.7,332.6 L882.6,340.5 L887.5,336.3 L892.6,336.5 L897.5,337.2 L902.4,339.1 L907.4,341.7 L912.2,344.3 L917.1,342.9 L922.0,344.0 L927.1,344.5 L932.0,345.2 L936.9,344.1 L941.7,351.6 L946.7,341.2 L951.6,340.6 L956.4,341.7 L961.4,342.9 L966.3,344.0 L971.3,346.3 L976.2,337.4 L981.0,336.9 L985.9,327.4 L990.8,329.4 L996.0,329.7 L1000.6,327.7 L1005.7,322.5 L1010.6,314.7 L1015.5,315.1 L1020.3,312.4 L1025.3,308.2 L1030.2,314.5 L1035.1,321.3 L1040.2,315.9 L1045.1,315.9 L1050.0,316.2 L1054.9,309.2 L1060.0,305.9 L1064.9,305.9 L1069.8,308.7 L1074.7,310.1 L1079.5,311.0 L1084.5,314.7 L1089.4,319.7 L1094.3,333.4 L1099.2,325.4 L1104.0,322.8 L1109.2,327.0 L1114.0,324.8 L1118.7,336.9 L1123.8,334.1 L1128.7,331.8 L1133.6,330.9 L1138.6,331.6 L1143.6,325.8 L1148.5,327.0 L1153.3,327.8 L1158.3,340.6 L1163.1,338.7 L1168.0,341.6 L1173.1,345.0 L1178.0,344.8 L1183.0,342.7 L1187.8,342.4 L1192.8,340.4 L1197.8,341.0 L1202.8,338.4 L1207.6,335.2 L1212.5,334.7 L1217.5,331.8 L1222.3,331.8 L1227.2,331.6 L1232.3,332.0 L1237.2,329.5 L1242.1,327.0 L1247.0,327.0 L1252.0,328.9 L1256.8,327.0 L1261.7,327.0 L1266.8,332.7 L1271.7,333.7 L1276.6,324.3 L1281.5,321.8 L1286.4,324.7 L1291.3,322.0 L1296.2,322.6 L1301.1,322.6 L1306.1,322.0 L1311.0,322.0 L1316.0,322.9 L1320.9,325.2 L1325.9,325.6 L1330.8,326.1 L1335.7,325.0 L1340.1,316.0 L1345.1,318.3 L1350.1,316.0 L1355.1,317.4 L1360.1,320.1 L1365.1,318.3 L1370.0,317.0 L1374.9,317.0 L1379.9,319.1 L1384.8,316.0 L1389.8,315.5 L1394.6,306.0 L1399.5,306.8 L1404.5,307.6 L1409.4,308.9 L1414.4,310.1 L1419.3,309.1 L1424.3,314.3 L1429.2,313.4 L1434.1,312.6 L1436.5,312.4" fill="none" stroke="#EA3943" stroke-width="3.8" stroke-linejoin="round" stroke-linecap="round" clip-path="url(#below)"/>
<path d="M14.8,131.0 L19.7,128.5 L26.3,135.6 L30.6,115.0 L35.3,110.9 L40.6,112.4 L45.4,109.3 L50.0,121.0 L55.0,127.5 L60.7,135.2 L64.2,134.0 L69.0,136.0 L75.0,142.3 L78.8,139.0 L82.7,142.8 L88.8,145.0 L93.5,154.6 L100.3,155.2 L104.6,164.4 L109.5,165.0 L114.2,209.3 L119.3,198.9 L124.3,196.4 L129.2,185.3 L134.1,188.4 L139.0,197.8 L143.9,207.2 L148.8,201.5 L153.8,195.8 L158.7,195.2 L163.6,189.6 L168.5,199.5 L173.4,200.1 L178.4,205.0 L183.3,198.2 L188.2,197.0 L193.1,208.1 L198.0,206.8 L203.0,205.2 L207.9,210.5 L212.8,208.7 L217.7,204.4 L222.6,202.6 L227.7,207.8 L232.3,266.7 L237.1,267.6 L242.2,277.0 L247.0,294.0 L252.1,304.3 L256.7,307.4 L261.8,311.1 L267.0,294.9 L271.8,287.6 L276.9,291.5 L281.8,286.4 L287.0,287.7 L291.7,287.2 L296.5,283.0 L301.3,279.9 L306.2,283.8 L311.4,287.2 L316.2,292.0 L321.1,283.8 L326.2,290.6 L331.0,289.8 L336.1,295.8 L340.9,300.5 L345.9,305.2 L350.7,294.9 L355.8,295.3 L360.4,303.5 L365.5,295.8 L370.3,293.7 L375.1,289.8 L380.2,298.8 L385.0,300.9 L390.1,300.0 L395.1,292.4 L399.8,288.6 L404.8,314.7 L409.7,308.4 L414.7,301.6 L419.6,309.6 L424.4,325.2 L429.4,330.1 L434.2,321.2 L439.3,317.8 L444.1,317.8 L449.0,334.9 L453.8,346.9 L458.9,365.6 L463.7,353.3 L468.7,359.2 L473.4,353.7 L478.6,349.8 L483.7,345.2 L488.3,327.7 L493.3,325.2 L498.2,326.7 L503.3,325.0 L508.1,334.6 L513.1,327.2 L517.8,320.4 L523.0,303.3 L527.8,304.2 L532.9,312.7 L537.8,317.0 L542.6,325.5 L547.7,334.9 L552.5,346.0 L557.5,358.0 L562.3,347.4 L567.4,346.9 L572.2,354.9 L577.1,348.1 L582.2,349.4 L587.0,356.3 L592.0,342.9 L596.8,338.7 L602.0,348.1 L606.7,345.5 L611.7,340.9 L616.8,329.6 L621.6,328.4 L626.4,335.3 L631.5,347.2 L636.5,353.2 L641.2,351.8 L646.0,354.0 L651.0,374.0 L655.8,372.0 L660.5,370.6 L665.7,373.3 L670.6,368.2 L675.4,368.2 L680.5,375.4 L685.3,360.0 L690.4,378.8 L695.4,364.3 L700.2,359.2 L704.9,359.7 L710.1,360.0 L715.0,354.0 L720.1,356.6 L724.9,355.8 L729.7,363.4 L734.8,364.8 L739.8,364.3 L744.6,351.8 L749.7,354.0 L754.5,351.1 L759.4,345.5 L764.6,345.5 L769.3,351.5 L774.5,348.9 L779.2,348.4 L784.0,339.7 L789.0,338.6 L793.8,342.6 L798.7,344.3 L803.7,340.9 L808.7,343.7 L813.3,354.7 L818.5,358.1 L823.3,349.5 L828.3,353.9 L833.1,343.7 L838.0,338.8 L843.0,344.3 L848.0,336.6 L853.0,337.4 L857.9,333.4 L862.8,334.5 L867.9,333.6 L872.9,333.0 L877.7,332.6 L882.6,340.5 L887.5,336.3 L892.6,336.5 L897.5,337.2 L902.4,339.1 L907.4,341.7 L912.2,344.3 L917.1,342.9 L922.0,344.0 L927.1,344.5 L932.0,345.2 L936.9,344.1 L941.7,351.6 L946.7,341.2 L951.6,340.6 L956.4,341.7 L961.4,342.9 L966.3,344.0 L971.3,346.3 L976.2,337.4 L981.0,336.9 L985.9,327.4 L990.8,329.4 L996.0,329.7 L1000.6,327.7 L1005.7,322.5 L1010.6,314.7 L1015.5,315.1 L1020.3,312.4 L1025.3,308.2 L1030.2,314.5 L1035.1,321.3 L1040.2,315.9 L1045.1,315.9 L1050.0,316.2 L1054.9,309.2 L1060.0,305.9 L1064.9,305.9 L1069.8,308.7 L1074.7,310.1 L1079.5,311.0 L1084.5,314.7 L1089.4,319.7 L1094.3,333.4 L1099.2,325.4 L1104.0,322.8 L1109.2,327.0 L1114.0,324.8 L1118.7,336.9 L1123.8,334.1 L1128.7,331.8 L1133.6,330.9 L1138.6,331.6 L1143.6,325.8 L1148.5,327.0 L1153.3,327.8 L1158.3,340.6 L1163.1,338.7 L1168.0,341.6 L1173.1,345.0 L1178.0,344.8 L1183.0,342.7 L1187.8,342.4 L1192.8,340.4 L1197.8,341.0 L1202.8,338.4 L1207.6,335.2 L1212.5,334.7 L1217.5,331.8 L1222.3,331.8 L1227.2,331.6 L1232.3,332.0 L1237.2,329.5 L1242.1,327.0 L1247.0,327.0 L1252.0,328.9 L1256.8,327.0 L1261.7,327.0 L1266.8,332.7 L1271.7,333.7 L1276.6,324.3 L1281.5,321.8 L1286.4,324.7 L1291.3,322.0 L1296.2,322.6 L1301.1,322.6 L1306.1,322.0 L1311.0,322.0 L1316.0,322.9 L1320.9,325.2 L1325.9,325.6 L1330.8,326.1 L1335.7,325.0 L1340.1,316.0 L1345.1,318.3 L1350.1,316.0 L1355.1,317.4 L1360.1,320.1 L1365.1,318.3 L1370.0,317.0 L1374.9,317.0 L1379.9,319.1 L1384.8,316.0 L1389.8,315.5 L1394.6,306.0 L1399.5,306.8 L1404.5,307.6 L1409.4,308.9 L1414.4,310.1 L1419.3,309.1 L1424.3,314.3 L1429.2,313.4 L1434.1,312.6 L1436.5,312.4" fill="none" stroke="#16C784" stroke-width="3.8" stroke-linejoin="round" stroke-linecap="round" clip-path="url(#above)"/>
</g>
<!-- reference dotted line -->
<line x1="16" y1="127" x2="1436" y2="127" stroke="#808080" stroke-width="2" stroke-dasharray="2 6"/>
<!-- open price label -->
<rect x="20" y="107.6" width="92" height="46.5" rx="11" fill="#fff" fill-opacity="0.915"/>
<text x="28.3" y="138.3" font-size="22.6" fill="#58667E" stroke="#58667E" stroke-width="0.1" textLength="75" lengthAdjust="spacing">68.68K</text>
<!-- y labels -->
<text x="1447.9" y="108.1" class="ax" textLength="76.4" lengthAdjust="spacing">69.00K</text><text x="1447.9" y="188.2" class="ax" textLength="76.4" lengthAdjust="spacing">68.00K</text><text x="1447.9" y="269.7" class="ax" textLength="72.6" lengthAdjust="spacing">67.00K</text><text x="1447.9" y="350.0" class="ax" textLength="76.4" lengthAdjust="spacing">66.00K</text><text x="1447.9" y="430.1" class="ax" textLength="76.4" lengthAdjust="spacing">65.00K</text>
<!-- price tag -->
<rect x="1436.6" y="286.6" width="101" height="50.8" rx="4.6" fill="#EA3943" stroke="#D5343E" stroke-width="1"/>
<text x="1447.9" y="320.6" font-size="23.5" fill="#fff" stroke="#fff" stroke-width="0.3" textLength="76.2" lengthAdjust="spacing">66.35K</text>
<!-- x labels -->
<text x="90.2" y="533.7" class="ax" textLength="88.5" lengthAdjust="spacing">9:00 AM</text><text x="262.4" y="533.7" class="ax" textLength="97.6" lengthAdjust="spacing">12:00 PM</text><text x="445.3" y="533.7" class="ax" textLength="88" lengthAdjust="spacing">3:00 PM</text><text x="622.0" y="533.7" class="ax" textLength="88.5" lengthAdjust="spacing">6:00 PM</text><text x="799.8" y="533.7" class="ax" textLength="87.9" lengthAdjust="spacing">9:00 PM</text><text x="983.7" y="533.7" class="ax" textLength="73.5" lengthAdjust="spacing">28 Mar</text><text x="1153.9" y="533.7" class="ax" textLength="88.4" lengthAdjust="spacing">3:00 AM</text><text x="1330.6" y="533.7" class="ax" textLength="88.9" lengthAdjust="spacing">6:00 AM</text>
<!-- history badge -->
<path d="M16.2,576 L25.5,566.5 Q32,552.2 48,552.2 L94.5,552.2 A23.8,23.8 0 0 1 94.5,599.8 L48,599.8 Q32,599.8 25.5,585.5 Z" fill="#A6B0C3"/>
<g fill="none" stroke="#fff" stroke-width="2.6" stroke-linecap="round" stroke-linejoin="round">
<path d="M38.3,572.2 A10.1,10.1 0 1 1 41.3,583.2"/>
<path d="M47.9,569 V575.6 L53.2,578.8"/>
</g>
<path d="M36,571.4 L41.2,571 L38.2,575.4 Z" fill="#fff" stroke="#fff" stroke-width="1.3" stroke-linejoin="round"/>
<text x="67.8" y="584.2" font-size="22.8" fill="#fff" stroke="#fff" stroke-width="0.4" textLength="38.4" lengthAdjust="spacing">139</text>
<!-- analyze button -->
<path d="M1341.6,553 L1350,544.2 L1358.4,553 Z" fill="#3861FB"/>
<rect x="1264" y="552" width="172" height="47.8" rx="23.9" fill="#3861FB"/>
<g fill="none" stroke="#fff" stroke-width="2.8" stroke-linecap="round" stroke-linejoin="round">
<path d="M1300.7,584.6 Q1296.5,587.9 1291.8,587.9 Q1289,587.9 1286.6,586.9 L1280.9,588.3 L1282.6,583.2 A11.8,11.8 0 1 1 1303.9,575.5 Q1303.6,579.9 1301.2,579.9 Q1298.9,579.9 1298.9,576.5 L1298.8,574 Q1298.2,570.5 1296,573 L1292.3,579 Q1291,580.6 1290.8,578.6 L1290.6,573.4 Q1290.2,570.6 1288.6,573.2 L1285.2,578.8"/>
</g>
<text x="1312.2" y="584.2" font-size="23.2" fill="#fff" stroke="#fff" stroke-width="0.45" textLength="83.2" lengthAdjust="spacing">Analyze</text>
<path d="M1406,568.4 L1414.2,576.2 L1406,584" fill="none" stroke="#fff" stroke-width="2.4" stroke-linecap="round" stroke-linejoin="round"/>
<!-- navigator -->
<rect x="15.8" y="604" width="1420.2" height="2" fill="#F3F4F7"/>
<rect x="15.8" y="684.8" width="1420.2" height="1.4" fill="#F1F2F5"/>
<rect x="146.0" y="606" width="2" height="79" fill="#F5F6F8"/><rect x="328.0" y="606" width="2" height="79" fill="#F5F6F8"/><rect x="508.0" y="606" width="2" height="79" fill="#F5F6F8"/><rect x="690.0" y="606" width="2" height="79" fill="#F5F6F8"/><rect x="870.2" y="606" width="2" height="79" fill="#F5F6F8"/><rect x="1052.2" y="606" width="2" height="79" fill="#F5F6F8"/><rect x="1232.4" y="606" width="2" height="79" fill="#F5F6F8"/><rect x="1412.4" y="606" width="2" height="79" fill="#F5F6F8"/>
<rect x="1434.4" y="606" width="1.6" height="79" fill="#F4F5F7"/>
<path d="M15.8,685.0 L300.0,684.6 L450.0,684.2 L560.0,683.8 L640.0,683.0 L665.5,682.2 L678.3,681.2 L683.4,678.7 L687.3,674.1 L691.1,676.6 L696.2,677.4 L701.3,679.7 L706.4,678.7 L714.1,680.7 L721.7,679.7 L729.4,681.0 L742.2,680.5 L767.7,681.2 L772.8,682.8 L803.5,682.8 L813.7,680.7 L829.0,678.2 L834.1,678.9 L844.3,679.2 L852.0,680.2 L862.2,680.7 L872.4,680.7 L885.2,679.2 L891.6,681.2 L905.6,679.7 L921.0,679.7 L928.6,677.9 L940.0,678.9 L945.1,677.9 L949.6,676.0 L954.0,673.8 L958.5,673.8 L961.1,670.2 L964.3,665.1 L967.5,664.1 L969.6,666.2 L971.3,659.0 L973.5,657.5 L974.7,654.7 L976.4,653.9 L977.4,655.6 L980.6,653.0 L982.8,653.3 L984.7,651.3 L987.9,650.1 L990.7,653.0 L993.6,652.0 L995.9,653.6 L997.2,659.0 L998.7,661.9 L1001.3,663.9 L1003.5,661.7 L1004.9,662.6 L1005.8,665.1 L1009.0,665.4 L1011.8,666.4 L1014.1,662.8 L1015.4,662.6 L1016.6,658.7 L1018.5,658.4 L1020.5,655.9 L1022.4,656.8 L1024.3,654.3 L1025.8,656.2 L1027.5,659.8 L1029.4,659.8 L1031.3,654.3 L1033.2,650.4 L1035.5,648.3 L1037.7,648.9 L1039.9,645.7 L1042.2,647.9 L1043.7,651.7 L1045.7,651.7 L1047.9,656.8 L1049.2,658.1 L1051.7,655.8 L1053.7,656.8 L1055.6,660.0 L1057.5,660.3 L1059.4,663.2 L1062.0,659.8 L1064.5,660.3 L1065.8,661.9 L1067.7,660.0 L1069.6,662.2 L1072.2,661.6 L1074.1,658.1 L1076.7,658.4 L1078.6,661.7 L1080.5,661.6 L1083.7,662.6 L1085.3,667.0 L1088.1,667.7 L1090.1,666.7 L1092.6,667.3 L1094.5,672.8 L1100.3,673.2 L1101.9,672.2 L1104.1,672.5 L1106.0,671.3 L1109.9,671.3 L1111.8,673.1 L1114.3,673.4 L1116.0,672.2 L1118.5,674.1 L1121.4,673.7 L1125.8,674.1 L1127.7,673.2 L1130.5,673.4 L1132.6,676.0 L1137.7,675.1 L1144.7,675.4 L1147.9,672.2 L1153.6,672.4 L1155.5,670.6 L1159.4,671.9 L1162.6,669.0 L1165.8,669.2 L1168.3,667.9 L1170.9,669.0 L1179.2,669.3 L1180.4,669.0 L1183.0,670.2 L1184.9,669.6 L1187.5,667.0 L1191.3,667.0 L1193.9,668.1 L1199.6,668.1 L1201.5,669.9 L1206.6,670.0 L1213.7,669.0 L1216.8,665.4 L1219.4,665.1 L1222.6,663.5 L1224.5,663.2 L1226.4,660.9 L1229.0,661.3 L1232.2,659.6 L1235.4,658.1 L1237.3,659.0 L1238.6,661.3 L1240.5,660.0 L1242.4,659.8 L1243.7,656.2 L1246.9,654.3 L1248.8,645.3 L1250.7,643.4 L1253.2,645.0 L1255.8,644.1 L1258.4,643.4 L1260.3,646.6 L1262.2,646.0 L1264.1,647.9 L1266.7,647.9 L1267.9,644.1 L1269.2,643.4 L1271.1,645.0 L1274.3,644.7 L1276.2,646.6 L1277.5,648.8 L1278.8,648.1 L1280.4,649.8 L1282.6,646.2 L1284.5,645.6 L1286.5,646.6 L1288.1,651.1 L1290.9,649.8 L1292.8,648.3 L1294.8,650.2 L1296.4,652.0 L1299.2,648.3 L1301.1,647.9 L1302.6,649.0 L1305.1,646.0 L1309.2,643.9 L1310.2,640.9 L1311.2,633.2 L1314.3,631.2 L1317.9,628.6 L1319.4,624.5 L1320.9,623.7 L1322.0,625.5 L1323.5,630.1 L1324.5,627.1 L1325.7,625.7 L1327.4,627.6 L1329.1,625.8 L1332.7,626.1 L1335.2,628.9 L1337.3,630.1 L1339.3,633.7 L1341.4,638.0 L1342.9,635.2 L1344.8,633.9 L1346.5,636.3 L1348.2,638.0 L1350.1,635.8 L1352.1,631.2 L1354.2,629.8 L1356.0,625.0 L1358.2,623.3 L1360.1,621.3 L1361.8,622.0 L1363.9,620.9 L1366.4,623.0 L1369.0,622.7 L1370.5,620.9 L1371.5,616.9 L1372.5,615.3 L1374.1,616.3 L1376.6,616.9 L1378.2,616.3 L1380.2,616.1 L1381.7,617.9 L1383.8,620.9 L1385.8,619.4 L1387.6,617.9 L1390.4,619.1 L1391.9,614.3 L1393.5,612.3 L1394.8,614.3 L1396.2,619.4 L1398.6,618.7 L1400.6,622.7 L1402.7,624.0 L1404.2,630.7 L1406.3,633.7 L1408.8,632.5 L1410.9,633.7 L1412.9,632.7 L1416.0,630.4 L1417.5,631.2 L1419.5,631.2 L1424.0,632.0 L1430.0,632.5 L1435.4,633.0 L1435.4,685.5 L15.8,685.5 Z" fill="#EFF2F5"/>
<text x="124.5" y="718" class="ax" textLength="49.3" lengthAdjust="spacing">2012</text><text x="304.6" y="718" class="ax" textLength="49.3" lengthAdjust="spacing">2014</text><text x="485.6" y="718" class="ax" textLength="49.3" lengthAdjust="spacing">2016</text><text x="666.6" y="718" class="ax" textLength="49.3" lengthAdjust="spacing">2018</text><text x="845.7" y="718" class="ax" textLength="53.0" lengthAdjust="spacing">2020</text><text x="1026.7" y="718" class="ax" textLength="53.0" lengthAdjust="spacing">2022</text><text x="1206.7" y="718" class="ax" textLength="53.0" lengthAdjust="spacing">2024</text><text x="1388.7" y="718" class="ax" textLength="53.0" lengthAdjust="spacing">2026</text>
<!-- handle -->
<rect x="1420" y="625" width="28" height="39" rx="14" fill="#fff" filter="url(#sh)"/>
<rect x="1430" y="636.6" width="2" height="14" fill="#8A94A8"/>
<rect x="1436.3" y="636.6" width="2" height="14" fill="#8A94A8"/>
</svg>
</body></html>
